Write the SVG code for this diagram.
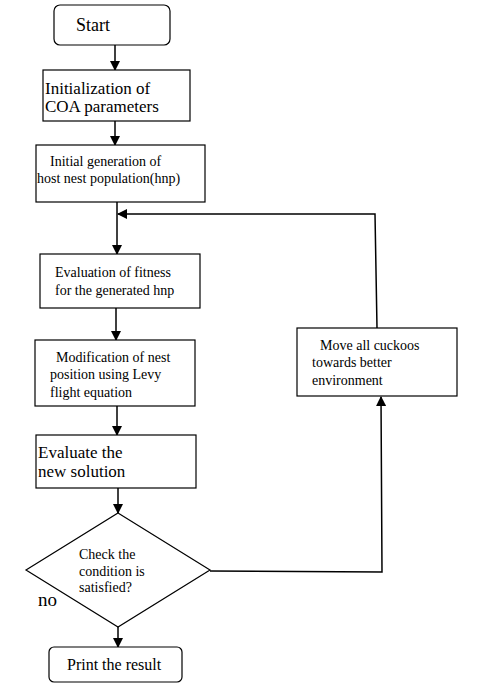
<svg xmlns="http://www.w3.org/2000/svg" width="490" height="686" viewBox="0 0 490 686">
<style>
.box{fill:#fff;stroke:#000;stroke-width:1.2}
text{fill:#000}
.s14{font-size:14px}
.s17{font-size:17px}
.c{fill:none;stroke:#000;stroke-width:1.5}
</style>
<defs>
<marker id="ah" markerWidth="10" markerHeight="10" refX="9" refY="5" orient="auto" markerUnits="userSpaceOnUse">
<path d="M0,0 L10,5 L0,10 z" fill="#000"/>
</marker>
</defs>
<rect width="490" height="686" fill="#fff"/>
<g id="connectors">
<line class="c" x1="115" y1="45" x2="115" y2="70" marker-end="url(#ah)"/>
<line class="c" x1="115" y1="121" x2="115" y2="145" marker-end="url(#ah)"/>
<line class="c" x1="117" y1="202" x2="117" y2="254" marker-end="url(#ah)"/>
<line class="c" x1="116" y1="308" x2="116" y2="340" marker-end="url(#ah)"/>
<line class="c" x1="117" y1="406" x2="117" y2="435" marker-end="url(#ah)"/>
<line class="c" x1="118" y1="488" x2="118" y2="513" marker-end="url(#ah)"/>
<line class="c" x1="118" y1="627" x2="118" y2="647" marker-end="url(#ah)"/>
<polyline class="c" points="210,571 382,572 381,397" marker-end="url(#ah)"/>
<polyline class="c" points="377,328 375,214 118,214" marker-end="url(#ah)"/>
</g>
<g font-family="Liberation Serif, serif">
<g id="start">
<rect class="box" x="54" y="5" width="116" height="40" rx="6"/>
<text x="76" y="31" font-size="18">Start</text>
</g>
<g id="init">
<rect class="box" x="43" y="70" width="147" height="51"/>
<text class="s17" x="45" y="94">Initialization of</text>
<text class="s17" x="45" y="112">COA parameters</text>
</g>
<g id="gen">
<rect class="box" x="36" y="145" width="169" height="57"/>
<text class="s14" x="50" y="166">Initial generation of</text>
<text class="s14" x="37" y="183">host nest population(hnp)</text>
</g>
<g id="eval">
<rect class="box" x="40" y="254" width="160" height="54"/>
<text class="s14" x="55" y="277">Evaluation of fitness</text>
<text class="s14" x="55" y="295">for the generated hnp</text>
</g>
<g id="modify">
<rect class="box" x="35" y="340" width="160" height="66"/>
<text class="s14" x="56" y="362">Modification of nest</text>
<text class="s14" x="50" y="379">position using Levy</text>
<text class="s14" x="50" y="397">flight equation</text>
</g>
<g id="evalnew">
<rect class="box" x="36" y="435" width="160" height="53"/>
<text class="s17" x="38" y="458">Evaluate the</text>
<text class="s17" x="38" y="477">new solution</text>
</g>
<g id="check">
<polygon class="box" points="118,513 210,570 118,627 26,570"/>
<text class="s14" x="79" y="559">Check the</text>
<text class="s14" x="79" y="576">condition is</text>
<text class="s14" x="79" y="592">satisfied?</text>
<text x="38" y="606" font-size="19">no</text>
</g>
<g id="print">
<rect class="box" x="49" y="647" width="133" height="35" rx="5"/>
<text x="67" y="670" font-size="16">Print the result</text>
</g>
<g id="move">
<rect class="box" x="297" y="328" width="160" height="68"/>
<text class="s14" x="320" y="350">Move all cuckoos</text>
<text class="s14" x="312" y="367">towards better</text>
<text class="s14" x="312" y="385">environment</text>
</g>
</g>
</svg>
